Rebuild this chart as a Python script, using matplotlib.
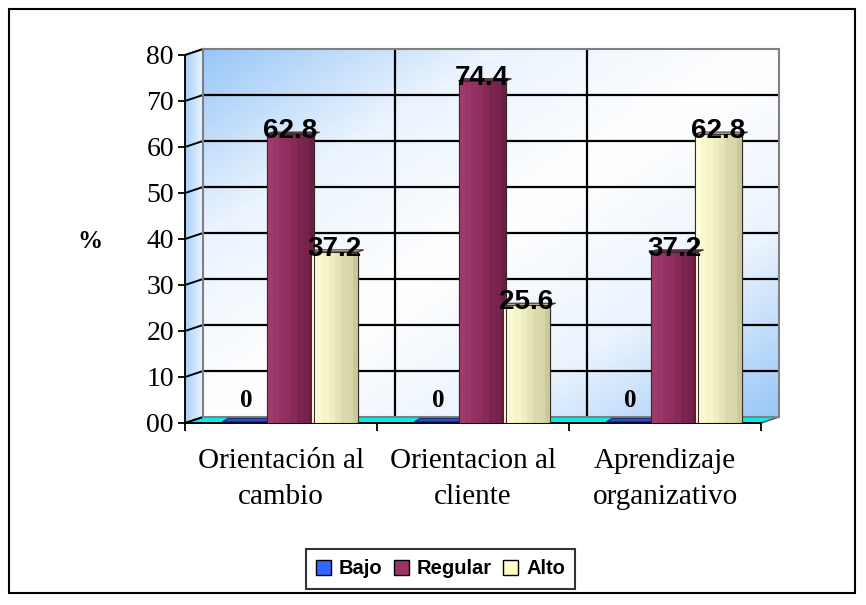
import numpy as np
import matplotlib.pyplot as plt
from matplotlib.patches import Polygon, Rectangle, Patch
from matplotlib.colors import LinearSegmentedColormap

categories = ["Orientación al\ncambio", "Orientacion al\ncliente", "Aprendizaje\norganizativo"]
series = ["Bajo", "Regular", "Alto"]
bajo = [0, 0, 0]
regular = [62.8, 74.4, 37.2]
alto = [37.2, 25.6, 62.8]
yticks = list(range(0, 81, 10))
ytick_labels = ["00", "10", "20", "30", "40", "50", "60", "70", "80"]

colors = {"Bajo": "#3366FF", "Regular": "#993366", "Alto": "#FFFFCC"}
shades = {
    "Bajo": ["#4A6AE0", "#2B4FD0", "#22389A"],
    "Regular": ["#A03A6C", "#8E2C5C", "#6A1E44"],
    "Alto": ["#FFFFD8", "#EDEDC0", "#C9C99C"],
}

W, H = 866, 605
fig = plt.figure(figsize=(W / 100, H / 100), dpi=100)

# front plane of the 3-D box (pixels from top-left) and its depth
x0, x1, y0, y1 = 185, 761, 423, 55
dx, dy = 18, 6
ymax = 80


def rect(l, r, b, t):
    return [l / W, 1 - b / H, (r - l) / W, (b - t) / H]


# decoration layer: outer frame, side wall, floor
deco = fig.add_axes([0, 0, 1, 1], zorder=0)
deco.set_xlim(0, W)
deco.set_ylim(H, 0)
deco.axis("off")
deco.add_patch(Rectangle((9, 9), 846, 584, fill=False, ec="black", lw=1.5))

side = Polygon([(x0, y0), (x0 + dx, y0 - dy), (x0 + dx, y1 - dy), (x0, y1)], closed=True,
               fc="none", ec="#808080", lw=1.2)
deco.add_patch(side)
grad = np.linspace(0, 1, 64).reshape(1, -1)
side_cmap = LinearSegmentedColormap.from_list("side", ["#A8CFF8", "#EAF4FF"])
im = deco.imshow(grad, cmap=side_cmap, extent=(x0, x0 + dx, y0, y1 - dy), aspect="auto", zorder=0)
im.set_clip_path(side)
for v in yticks:
    yf = y0 - v * (y0 - y1) / ymax
    deco.plot([x0, x0 + dx], [yf, yf - dy], color="black", lw=1.4, zorder=2)

floor = Polygon([(x0, y0), (x1, y0), (x1 + dx, y0 - dy), (x0 + dx, y0 - dy)], closed=True,
                fc="#00F0F0", ec="#606060", lw=1.2, zorder=1)
deco.add_patch(floor)

# back wall with diagonal blue-white-blue gradient
back = fig.add_axes(rect(x0 + dx, x1 + dx, y0 - dy, y1 - dy), zorder=1)
back.set_xlim(0, 3)
back.set_ylim(0, ymax)
gx, gy = np.meshgrid(np.linspace(0, 1, 200), np.linspace(1, 0, 200))
s = np.abs((gx + (1 - gy)) / 2 - 0.5) * 2
wall_cmap = LinearSegmentedColormap.from_list("wall", ["#FFFFFF", "#EAF3FE", "#98C7F7"])
back.imshow(s, cmap=wall_cmap, extent=(0, 3, 0, ymax), aspect="auto", origin="upper", vmin=0, vmax=1)
back.hlines(yticks[1:-1], 0, 3, color="black", lw=1.6)
back.vlines([1, 2], 0, ymax, color="black", lw=1.6)
back.set_xticks([])
back.set_yticks([])
for sp in back.spines.values():
    sp.set_color("#808080")
    sp.set_linewidth(1.5)

# front axes with bars
ax = fig.add_axes(rect(x0, x1, y0, y1), zorder=2)
ax.patch.set_alpha(0)
ax.set_xlim(0, 3)
ax.set_ylim(0, ymax)
for sp in ["top", "right"]:
    ax.spines[sp].set_visible(False)
ax.spines["left"].set_linewidth(1.3)
ax.spines["bottom"].set_linewidth(1.3)

ax.set_yticks(yticks)
ax.set_yticklabels(ytick_labels, fontfamily="Liberation Serif", fontsize=20)
ax.tick_params(axis="y", direction="out", length=5, width=1.3, pad=3)
ax.set_xticks([0, 1, 2, 3])
ax.set_xticklabels([])
ax.tick_params(axis="x", which="major", direction="out", length=6, width=1.3)
ax.set_xticks([0.5, 1.5, 2.5], minor=True)
ax.set_xticklabels(categories, minor=True, fontfamily="Liberation Serif", fontsize=21,
                   linespacing=1.5)
ax.tick_params(axis="x", which="minor", length=0, pad=18)

fig.text(90 / W, 1 - 241 / H, "%", fontfamily="Liberation Serif", fontweight="bold",
         fontsize=18, ha="center", va="center")

x = np.arange(len(categories)) + 0.5 + 0.047
width = 0.245
step = 0.23
depth_x, depth_y = 6 / 192, 2 / 4.6

for k, (name, vals) in enumerate(zip(series, [bajo, regular, alto])):
    xs = x + (k - 1) * step
    cmap = LinearSegmentedColormap.from_list(name, shades[name])
    for xi, v in zip(xs, vals):
        left = xi - width / 2
        if v == 0:
            foot = Polygon([(left, 0.3), (left + width, 0.3), (left + width + 0.03, 1.0),
                            (left + 0.03, 1.0)], closed=True, fc=shades[name][1],
                           ec="#1a2a70", lw=0.8, zorder=3)
            ax.add_patch(foot)
            ax.annotate(f"{v:g}", (xi, v), xytext=(0, 11.5), textcoords="offset points",
                        ha="center", va="baseline", fontfamily="Liberation Serif",
                        fontweight="bold", fontsize=18, zorder=6)
            continue
        bar = ax.bar(xi, v, width=width, color=colors[name], ec="#3a2a2a", lw=0.8,
                     zorder=3)[0]
        g = np.array([[0, 0.15, 0.3, 0.45, 0.6, 0.75, 0.8, 1.0]])
        img = ax.imshow(g, cmap=cmap, extent=(left, left + width, 0, v), aspect="auto",
                        zorder=3.5, vmin=0, vmax=1)
        img.set_clip_path(bar)
        ax.add_patch(Rectangle((left, 0), width, v, fill=False, ec="#3a2a2a", lw=0.8,
                               zorder=4))
        top = Polygon([(left, v), (left + width, v), (left + width + depth_x, v + depth_y),
                       (left + depth_x, v + depth_y)], closed=True, fc=shades[name][1],
                      ec="#3a2a2a", lw=0.8, zorder=4)
        ax.add_patch(top)
        ax.annotate(f"{v:g}", (xi, v), xytext=(0, 2), textcoords="offset points",
                    ha="center", va="center", fontfamily="Liberation Sans",
                    fontweight="bold", fontsize=20, zorder=6)
ax.set_xlim(0, 3)
ax.set_ylim(0, ymax)

handles = [Patch(fc=colors[n], ec="black", lw=1.0) for n in series]
leg = fig.legend(handles, series, loc="center", bbox_to_anchor=(440.5 / W, 1 - 569 / H),
                 ncol=3, frameon=True, fancybox=False, edgecolor="black",
                 handlelength=0.75, handleheight=0.75, handletextpad=0.4, columnspacing=0.55,
                 borderpad=0.5, borderaxespad=0,
                 prop={"family": "Liberation Sans", "weight": "bold", "size": 14.5})
leg.get_frame().set_linewidth(1.5)

fig.savefig("out.png", dpi=100)
